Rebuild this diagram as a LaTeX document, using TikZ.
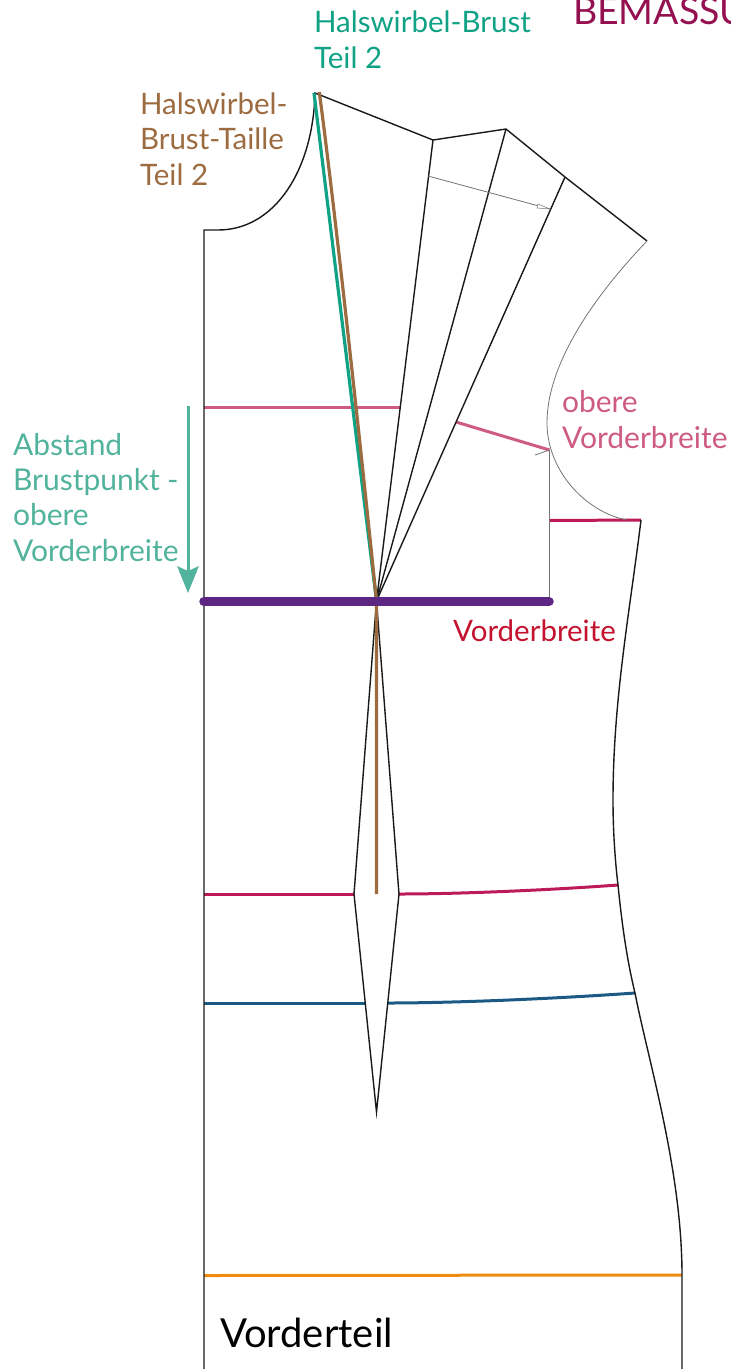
\documentclass[tikz,border=0pt]{standalone}
\usepackage{fontspec}
\setmainfont{Lato}
\usetikzlibrary{arrows.meta}
\definecolor{cTeal}{HTML}{0FA285}
\definecolor{cBrown}{HTML}{9C6B40}
\definecolor{cMint}{HTML}{52B39C}
\definecolor{cPink}{HTML}{CE5B81}
\definecolor{cCrim}{HTML}{C4122F}
\definecolor{cRose}{HTML}{BC1A58}
\definecolor{cPurple}{HTML}{5C2682}
\definecolor{cBlue}{HTML}{1A5A85}
\definecolor{cOrange}{HTML}{F08A13}
\definecolor{cTitle}{HTML}{951050}
\tikzset{
  lbl/.style={inner sep=0pt,outer sep=0pt,anchor=base west,align=left,font=\fontsize{29.5}{35.3}\selectfont},
  lblwide/.style={lbl,font=\fontsize{30}{35.3}\selectfont},
  pat/.style={draw=black!90,line width=1.4pt,line join=miter},
  thin pat/.style={draw=black!55,line width=0.8pt},
  meas/.style={line width=3pt}
}
\begin{document}
\begin{tikzpicture}[x=1pt,y=-1pt]
\useasboundingbox (0,0) rectangle (731,1369);
% key points
\coordinate (nk) at (315,93);
\coordinate (s1) at (433,140);
\coordinate (s2) at (506,129);
\coordinate (s3) at (565,177);
\coordinate (s4) at (647,241);
\coordinate (bp) at (376.5,601);
\coordinate (cf) at (204,230);
\coordinate (cfb) at (204,1369);
\coordinate (ah) at (549.5,450);
\coordinate (ul) at (641,520);
\coordinate (wa) at (618,885);
\coordinate (hi) at (635,993);
\coordinate (he) at (682,1275);
\coordinate (sb) at (682,1369);
\coordinate (dl) at (354,894);
\coordinate (dr) at (399,894);
\coordinate (dt) at (376.5,1112);
% measure lines under pattern
\draw[cOrange,meas] (204,1275.5) -- (he);
\draw[cBlue,meas] (204,1003) -- (366,1003);
\draw[cBlue,meas] (388,1003) .. controls (450,1003) and (550,999) .. (hi);
\draw[cRose,meas] (204,894) -- (dl);
\draw[cRose,meas] (dr) .. controls (460,894) and (550,890) .. (wa);
\draw[cPink,meas] (204,407) -- (400,407);
\draw[cPink,meas] (456,422) -- (ah);
\draw[cRose,meas] (549,520.5) -- (ul);
% pattern
\draw[pat] (cfb) -- (cf) -- (218,230) .. controls (275,230) and (313,170) .. (nk) -- (s1) -- (s2) -- (s3) -- (s4);
\draw[thin pat] (s4) .. controls (600,290) and (547,360) .. (547,423) .. controls (547,470) and (585,512) .. (627,520);
\draw[thin pat] (ah) -- (549.5,601);
\draw[thin pat] (ah) -- (535,455);
\draw[pat] (s1) -- (bp) -- (s2);
\draw[pat] (s3) -- (bp);
\draw[pat] (ul) .. controls (630,610) and (613,700) .. (613,800) .. controls (613,830) and (615,860) .. (wa) .. controls (622,925) and (627,960) .. (hi) .. controls (648,1060) and (682,1170) .. (he) -- (sb);
\draw[pat] (bp) -- (dl) -- (dt) -- (dr) -- (bp);
% arrow between pieces
\draw[thin pat] (428,176) -- (550,209);
\draw[thin pat,fill=white,line width=0.5pt] (550,209) -- (537,208) -- (538,204) -- cycle;
% long coloured lines
\draw[cTeal,line width=3.2pt] (314,93) -- (bp);
\draw[cBrown,line width=3.2pt] (319.3,92) .. controls (335,210) and (360,440) .. (bp) -- (376.5,894);
\draw[cPurple,line width=9.5pt,line cap=round] (204,601.5) -- (549,601.5);
\draw[cMint,line width=3pt] (188,406) -- (188,575);
\fill[cMint] (188,593) -- (177,566) -- (188,571) -- (199,566) -- cycle;
% labels
\node[lbl,text=cTeal] (t1) at (314,68) {Halswirbel-Brust\\Teil 2};
\node[lbl,text=cBrown] (t2) at (140,185) {Halswirbel-\\Brust-Taille\\Teil 2};
\node[lblwide,text=cMint] (t3) at (13,561) {Abstand\\Brustpunkt -\\obere\\Vorderbreite};
\node[lblwide,text=cPink] (t4) at (562,448) {obere\\Vorderbreite};
\node[lbl,text=cCrim] (t5) at (453,641) {Vorderbreite};
\node[lbl,text=cTitle,font=\fontsize{37.5}{44}\selectfont] (t6) at (573,24) {BEMASSUNG};
\node[lbl,text=black,font=\fontsize{40}{46}\selectfont] (t7) at (220,1347) {Vorderteil};
\end{tikzpicture}
\end{document}
